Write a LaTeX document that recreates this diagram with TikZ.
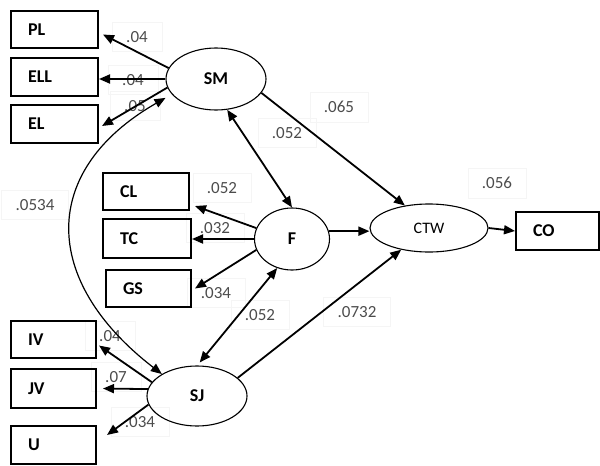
\documentclass[tikz,border=0pt]{standalone}
\usepackage{fontspec}
\setmainfont{Carlito}
\usetikzlibrary{shapes.geometric,arrows.meta}
\begin{document}
\begin{tikzpicture}[x=1pt,y=-1pt,
  box/.style={draw, line width=2pt, rectangle, minimum height=37pt, inner xsep=17pt,
    text width=#1, align=left, font=\fontsize{18}{18}\selectfont\bfseries, anchor=north west},
  box/.default=53pt,
  ell/.style={draw, ellipse, line width=1.1pt, inner sep=0pt, font=\fontsize{18}{18}\selectfont\bfseries},
  tip/.tip={Triangle[length=11pt,width=9pt]},
  arr/.style={line width=1.8pt, -tip},
  darr/.style={line width=1.8pt, tip-tip},
  lbl/.style={font=\fontsize{17}{17}\selectfont, text=black!70, draw=black!4, inner xsep=14pt, inner ysep=9pt}
]
\useasboundingbox (0,0) rectangle (600,466);
% labels (drawn first, so the faint frames stay behind the lines)
\node[lbl] (l1) at (137,37) {.04};
\node[lbl] (l2) at (133,80) {.04};
\node[lbl] (l3) at (135,106) {.05};
\node[lbl] (l4) at (287,133) {.052};
\node[lbl] (l5) at (339,107) {.065};
\node[lbl] (l6) at (497,183) {.056};
\node[lbl] (l7) at (35,205) {.0534};
\node[lbl] (l8) at (222,188) {.052};
\node[lbl] (l9) at (215,228) {.032};
\node[lbl] (l10) at (216,293) {.034};
\node[lbl] (l11) at (260,315) {.052};
\node[lbl] (l12) at (357,312) {.0732};
\node[lbl] (l13) at (110,336) {.04};
\node[lbl] (l14) at (116,377) {.07};
\node[lbl] (l15) at (140,422) {.034};
% boxes
\node[box] (PL) at (10,10) {PL};
\node[box, minimum height=38pt] (ELL) at (10,57) {ELL};
\node[box, minimum height=38pt] (EL) at (10,104) {EL};
\node[box=52pt] (CL) at (102,172) {CL};
\node[box=54pt, minimum height=39pt] (TC) at (102,218) {TC};
\node[box=51pt] (GS) at (105,269) {GS};
\node[box=51pt] (IV) at (10,320) {IV};
\node[box=51pt, minimum height=39pt] (JV) at (10,368) {JV};
\node[box=51pt, minimum height=38pt] (U) at (10,425) {U};
\node[box=49pt, minimum height=38pt] (CO) at (515,211) {CO};
% latent variables
\node[ell, minimum width=100pt, minimum height=62pt] (SM) at (216,79) {SM};
\node[ell, minimum width=75pt, minimum height=62pt] (F) at (292,239) {F};
\node[ell, minimum width=118pt, minimum height=48pt, font=\fontsize{16}{16}\selectfont] (CTW) at (429,228) {CTW};
\node[ell, minimum width=100pt, minimum height=60pt] (SJ) at (197,396) {SJ};
% connectors
\draw[arr] (SM.167) -- ([xshift=4pt,yshift=-5pt]PL.east);
\draw[arr] (SM.west) -- (ELL.east |- SM.west);
\draw[arr] (SM.190) -- ([xshift=3pt,yshift=-2pt]EL.east);
\draw[darr] (SM.-70) -- (F.north);
\draw[arr] (SM.-17) -- (CTW.137);
\draw[arr] (F.163) -- ([xshift=5pt,yshift=5pt]CL.south east);
\draw[arr] (F.west) -- (TC.east |- F.west);
\draw[arr] (F.197) -- ([xshift=3pt]GS.east);
\draw[arr] (F.12) -- (CTW.west |- F.12);
\draw[arr] (CTW.east) -- (CO.west);
\draw[darr] (F.243) -- ([yshift=3pt]SJ.85);
\draw[arr] (SJ.24) -- (CTW.218);
\draw[arr] (SJ.163) -- ([xshift=2pt,yshift=-6pt]IV.east);
\draw[arr] (SJ.172) -- ([xshift=6pt]JV.east);
\draw[arr] (SJ.190) -- ([xshift=10pt,yshift=-10pt]U.north east);
\draw[line width=1.2pt, tip-tip]
  ([xshift=-10pt]SM.205) .. controls (40,170) and (40,280) .. (SJ.148);
\end{tikzpicture}
\end{document}
